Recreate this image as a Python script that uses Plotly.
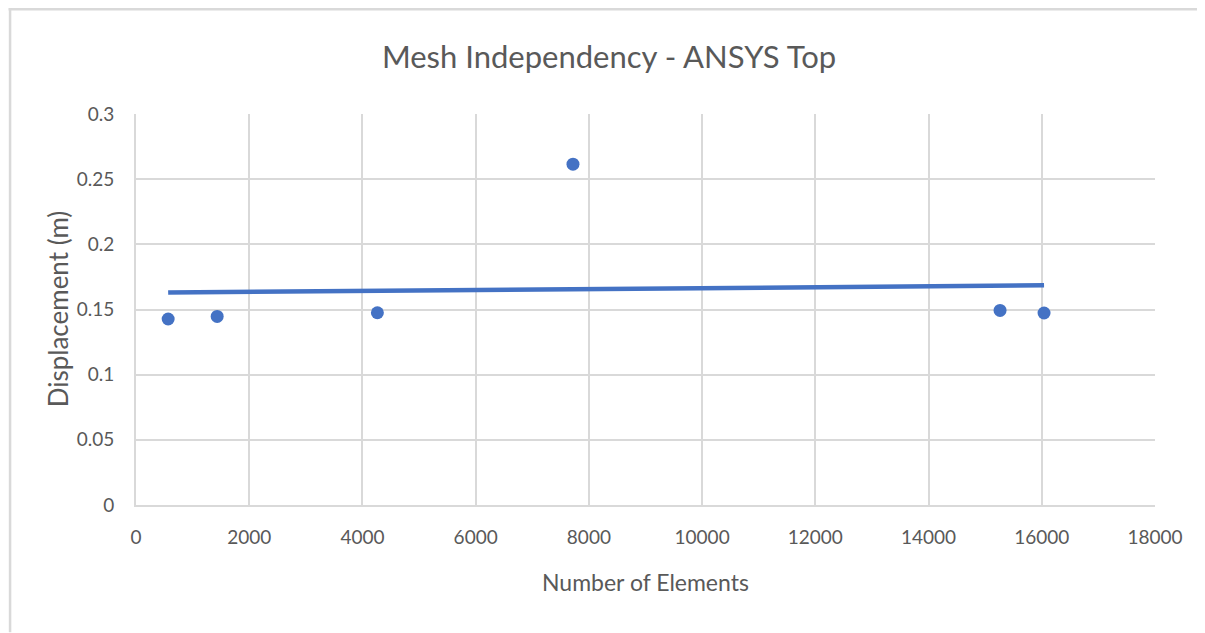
import numpy as np
import plotly.graph_objects as go

elements = [568, 1434, 4264, 7719, 15263, 16040]
displacement = [0.1427, 0.1447, 0.1475, 0.2615, 0.1493, 0.1473]
x_ticks = [0, 2000, 4000, 6000, 8000, 10000, 12000, 14000, 16000, 18000]
y_ticks = [0, 0.05, 0.1, 0.15, 0.2, 0.25, 0.3]
y_tick_text = ["0", "0.05", "0.1", "0.15", "0.2", "0.25", "0.3"]

slope, intercept = np.polyfit(elements, displacement, 1)
trend_x = [min(elements), max(elements)]
trend_y = [slope * v + intercept for v in trend_x]

BLUE = "#4472C4"
GRID = "#D9D9D9"
TXT = "#595959"
FONT = "Lato, Carlito, Calibri, sans-serif"

# page body has an 8px margin: work in screen coords, convert to figure coords
OFF = 8
W, H = 1205 - OFF, 633 - OFF
SL, SR, ST, SB = 135.5, 1155, 114, 505.5   # plot area on screen
L, T = SL - OFF, ST - OFF
R, B = W - (SR - OFF), H - (SB - OFF)
pw, ph = SR - SL, SB - ST

def px(xs):
    return (xs - SL) / pw

def py(ys):
    return (SB - ys) / ph

fig = go.Figure()
fig.add_trace(go.Scatter(x=trend_x, y=trend_y, mode="lines",
                         line=dict(color=BLUE, width=4.5), showlegend=False,
                         hoverinfo="skip"))
fig.add_trace(go.Scatter(x=elements, y=displacement, mode="markers",
                         marker=dict(color=BLUE, size=13), showlegend=False))

fig.update_layout(
    width=W, height=H,
    margin=dict(l=L, r=R, t=T, b=B),
    paper_bgcolor="white", plot_bgcolor="white",
    font=dict(family=FONT, color=TXT, size=19),
    title=dict(text="Mesh Independency - ANSYS Top", xref="container", x=(609 - OFF) / W,
               xanchor="center", yref="container", y=1 - (57 - OFF) / H, yanchor="middle",
               font=dict(size=31, color=TXT, family=FONT)),
    xaxis=dict(range=[0, 18000], tickvals=x_ticks, ticktext=[str(v) for v in x_ticks],
               showgrid=True, gridcolor=GRID, gridwidth=2,
               showline=True, linecolor=GRID, linewidth=2,
               zeroline=False, ticks="", ticklen=0, ticklabelstandoff=14,
               tickfont=dict(size=19, color=TXT)),
    yaxis=dict(range=[0, 0.3], tickvals=y_ticks, ticktext=y_tick_text,
               showgrid=True, gridcolor=GRID, gridwidth=2,
               showline=True, linecolor=GRID, linewidth=2,
               zeroline=False, ticks="", ticklen=0, ticklabelstandoff=16,
               tickfont=dict(size=19, color=TXT)),
    annotations=[
        dict(text="Number of Elements", xref="paper", yref="paper",
             x=px(645), y=py(583), xanchor="center", yanchor="middle",
             showarrow=False, font=dict(size=23, color=TXT, family=FONT)),
        dict(text="Displacement (m)", xref="paper", yref="paper",
             x=px(57), y=py(309), xanchor="center", yanchor="middle", textangle=-90,
             showarrow=False, font=dict(size=26, color=TXT, family=FONT)),
    ],
    shapes=[
        dict(type="line", xref="paper", yref="paper", x0=px(8), x1=px(1205),
             y0=py(9), y1=py(9), line=dict(color="#D9D9D9", width=2.5)),
        dict(type="line", xref="paper", yref="paper", x0=px(9.5), x1=px(9.5),
             y0=py(8), y1=py(633), line=dict(color="#D9D9D9", width=2.5)),
    ],
)

fig.write_html("out.html")
